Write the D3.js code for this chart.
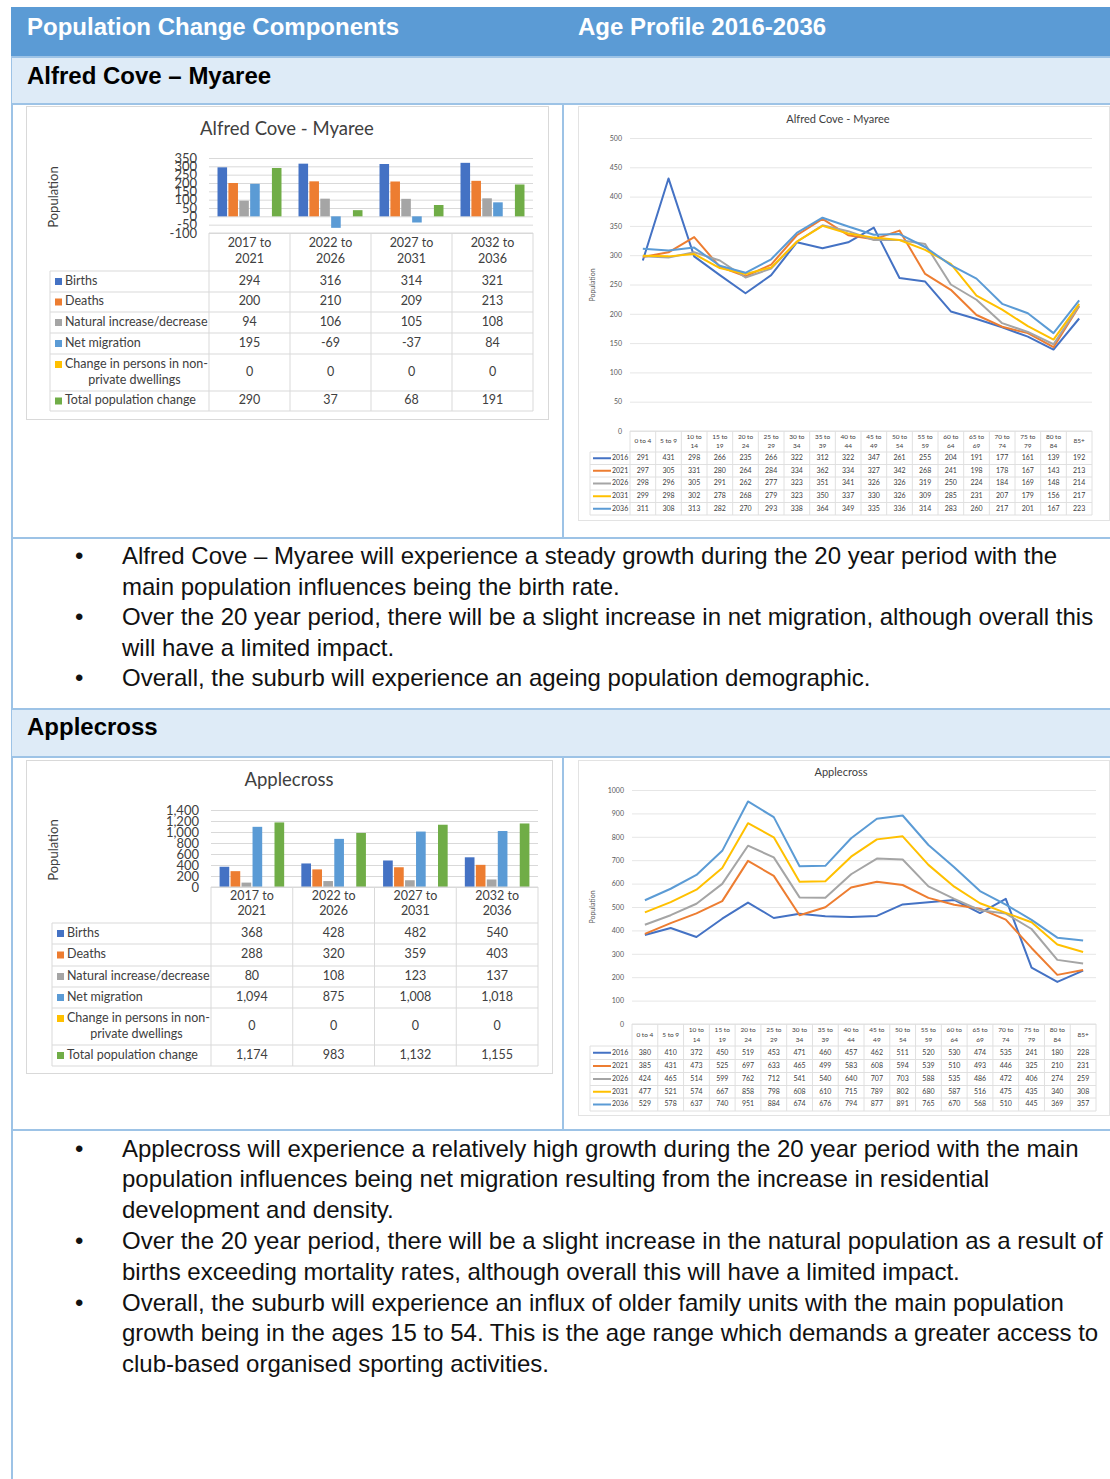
<!DOCTYPE html>
<html>
<head>
<meta charset="utf-8">
<script src="https://d3js.org/d3.v7.min.js"></script>
<style>
    body {
        margin: 0;
        padding: 0;
        width: 1110px;
        height: 1479px;
        position: relative;
        overflow: hidden;
        background: #fff;
        font-family: "Liberation Sans", Arial, sans-serif;
    }
    .abs { position: absolute; white-space: nowrap; }
    .topbar { left: 11px; top: 7px; width: 1099px; height: 49px; background: #5b9bd5; }
    .toptext { color: #fff; font-weight: bold; font-size: 24px; line-height: 28px; top: 13px; }
    .band { left: 12px; width: 1098px; background: #deebf7; border-top: 2px solid #9dc3e6; border-bottom: 2px solid #9dc3e6; }
    .bandtext { font-weight: bold; font-size: 24px; line-height: 28px; left: 27px; color: #000; }
    .rule { background: #9dc3e6; }
    .bullet { font-size: 24px; color: #111; }
    #chart { position: absolute; left: 0; top: 0; }
</style>
</head>
<body>
    <div class="abs rule" style="left:11px;top:7px;width:2px;height:1472px;"></div>
    <div class="abs topbar"></div>
    <div class="abs toptext" style="left:27px;">Population Change Components</div>
    <div class="abs toptext" style="left:578px;">Age Profile 2016-2036</div>

    <div class="abs band" style="top:56px;height:45px;"></div>
    <div class="abs bandtext" style="top:62px;">Alfred Cove – Myaree</div>
    <div class="abs rule" style="left:562px;top:103px;width:2px;height:435px;"></div>
    <div class="abs rule" style="left:12px;top:537px;width:1098px;height:2px;"></div>

    <div class="abs band" style="top:708px;height:46px;"></div>
    <div class="abs bandtext" style="top:713px;">Applecross</div>
    <div class="abs rule" style="left:562px;top:756px;width:2px;height:374px;"></div>
    <div class="abs rule" style="left:12px;top:1129px;width:1098px;height:2px;"></div>

    <div id="notes"></div>
    <div id="chart"></div>

<script>
    // ---- bar chart data (population change components) ----
    var periods = ["2017 to 2021", "2022 to 2026", "2027 to 2031", "2032 to 2036"];
    var components = ["Births", "Deaths", "Natural increase/decrease", "Net migration",
                      "Change in persons in non-private dwellings", "Total population change"];
    var componentColors = ["#4472c4", "#ed7d31", "#a5a5a5", "#5b9bd5", "#ffc000", "#70ad47"];

    var acmBirths     = [294, 316, 314, 321];
    var acmDeaths     = [200, 210, 209, 213];
    var acmNatural    = [94, 106, 105, 108];
    var acmMigration  = [195, -69, -37, 84];
    var acmNonPrivate = [0, 0, 0, 0];
    var acmTotal      = [290, 37, 68, 191];
    var acmBarTicks   = [-100, -50, 0, 50, 100, 150, 200, 250, 300, 350];

    var appBirths     = [368, 428, 482, 540];
    var appDeaths     = [288, 320, 359, 403];
    var appNatural    = [80, 108, 123, 137];
    var appMigration  = [1094, 875, 1008, 1018];
    var appNonPrivate = [0, 0, 0, 0];
    var appTotal      = [1174, 983, 1132, 1155];
    var appBarTicks   = [0, 200, 400, 600, 800, 1000, 1200, 1400];

    // ---- line chart data (age profile) ----
    var ageGroups = ["0 to 4", "5 to 9", "10 to 14", "15 to 19", "20 to 24", "25 to 29",
                     "30 to 34", "35 to 39", "40 to 44", "45 to 49", "50 to 54", "55 to 59",
                     "60 to 64", "65 to 69", "70 to 74", "75 to 79", "80 to 84", "85+"];
    var years = ["2016", "2021", "2026", "2031", "2036"];
    var yearColors = ["#4472c4", "#ed7d31", "#a5a5a5", "#ffc000", "#5b9bd5"];

    var acm2016 = [291, 431, 298, 266, 235, 266, 322, 312, 322, 347, 261, 255, 204, 191, 177, 161, 139, 192];
    var acm2021 = [297, 305, 331, 280, 264, 284, 334, 362, 334, 327, 342, 268, 241, 198, 178, 167, 143, 213];
    var acm2026 = [298, 296, 305, 291, 262, 277, 323, 351, 341, 326, 326, 319, 250, 224, 184, 169, 148, 214];
    var acm2031 = [299, 298, 302, 278, 268, 279, 323, 350, 337, 330, 326, 309, 285, 231, 207, 179, 156, 217];
    var acm2036 = [311, 308, 313, 282, 270, 293, 338, 364, 349, 335, 336, 314, 283, 260, 217, 201, 167, 223];
    var acmLineTicks = [0, 50, 100, 150, 200, 250, 300, 350, 400, 450, 500];

    var app2016 = [380, 410, 372, 450, 519, 453, 471, 460, 457, 462, 511, 520, 530, 474, 535, 241, 180, 228];
    var app2021 = [385, 431, 473, 525, 697, 633, 465, 499, 583, 608, 594, 539, 510, 493, 446, 325, 210, 231];
    var app2026 = [424, 465, 514, 599, 762, 712, 541, 540, 640, 707, 703, 588, 535, 486, 472, 406, 274, 259];
    var app2031 = [477, 521, 574, 667, 858, 798, 608, 610, 715, 789, 802, 680, 587, 516, 475, 435, 340, 308];
    var app2036 = [529, 578, 637, 740, 951, 884, 674, 676, 794, 877, 891, 765, 670, 568, 510, 445, 369, 357];
    var appLineTicks = [0, 100, 200, 300, 400, 500, 600, 700, 800, 900, 1000];

    // ---- commentary ----
    var acmNotes = [
        ["Alfred Cove – Myaree will experience a steady growth during the 20 year period with the",
         "main population influences being the birth rate."],
        ["Over the 20 year period, there will be a slight increase in net migration, although overall this",
         "will have a limited impact."],
        ["Overall, the suburb will experience an ageing population demographic."]
    ];
    var appNotes = [
        ["Applecross will experience a relatively high growth during the 20 year period with the main",
         "population influences being net migration resulting from the increase in residential",
         "development and density."],
        ["Over the 20 year period, there will be a slight increase in the natural population as a result of",
         "births exceeding mortality rates, although overall this will have a limited impact."],
        ["Overall, the suburb will experience an influx of older family units with the main population",
         "growth being in the ages 15 to 54. This is the age range which demands a greater access to",
         "club-based organised sporting activities."]
    ];

    function writeNotes(notes, top, lh) {
        var row = 0;
        notes.forEach(function(item) {
            var y = top + row * lh;
            d3.select("#notes").append("div").attr("class", "abs bullet")
                .style("left", "75px").style("top", y + "px").style("line-height", lh + "px")
                .text("•");
            d3.select("#notes").append("div").attr("class", "abs bullet")
                .style("left", "122px").style("top", y + "px").style("line-height", lh + "px")
                .html(item.join("<br>"));
            row += item.length;
        });
    }
    writeNotes(acmNotes, 541, 30.5);
    writeNotes(appNotes, 1133.5, 30.8);

    var chartFont = "Lato, 'Open Sans', sans-serif";
    var fmt = function(d) { return d3.format(",")(d).replace("\u2212", "-"); };

    var svg = d3.select("#chart").append("svg")
        .attr("width", 1110)
        .attr("height", 1479)
        .style("font-family", chartFont);

    function drawBarChart(cfg) {
        var g = svg.append("g");
        g.append("rect")
            .attr("x", cfg.box[0] + 0.5).attr("y", cfg.box[1] + 0.5)
            .attr("width", cfg.box[2]).attr("height", cfg.box[3])
            .attr("fill", "#fff").attr("stroke", "#d9d9d9");
        g.append("text")
            .attr("x", cfg.title[1]).attr("y", cfg.title[2])
            .attr("text-anchor", "middle").attr("dominant-baseline", "middle")
            .attr("font-size", 18.5).attr("fill", "#404040")
            .text(cfg.title[0]);
        g.append("text")
            .attr("transform", "translate(" + cfg.yTitle[0] + "," + cfg.yTitle[1] + ") rotate(-90)")
            .attr("text-anchor", "middle").attr("dominant-baseline", "middle")
            .attr("font-size", 13).attr("fill", "#404040")
            .text("Population");

        var x0 = d3.scaleBand().domain(periods).range([cfg.px0, cfg.px1])
            .paddingInner(0.21).paddingOuter(0.105);
        var x1 = d3.scaleBand().domain(d3.range(components.length))
            .range([0, x0.bandwidth()]).paddingInner(0.12);
        var y = d3.scaleLinear().domain(cfg.domain).range([cfg.py1, cfg.py0]);

        var axis = g.append("g")
            .attr("transform", "translate(" + cfg.px0 + ",0)")
            .call(d3.axisLeft(y).tickValues(cfg.ticks).tickSize(-(cfg.px1 - cfg.px0))
                .tickPadding(12).tickFormat(fmt));
        axis.select(".domain").remove();
        axis.selectAll("line").attr("stroke", "#d9d9d9");
        axis.selectAll("text").attr("font-size", 13).attr("fill", "#404040")
            .attr("font-family", chartFont);

        cfg.series.forEach(function(vals, i) {
            g.selectAll(".s" + i)
                .data(vals)
                .enter().append("rect")
                .attr("x", function(d, j) { return x0(periods[j]) + x1(i); })
                .attr("y", function(d) { return Math.min(y(d), y(0)); })
                .attr("width", x1.bandwidth())
                .attr("height", function(d) { return Math.abs(y(d) - y(0)); })
                .attr("fill", componentColors[i]);
        });

        // data table under the plot
        var rows = cfg.rows;
        var bottom = rows[rows.length - 1];
        var step = x0.step();
        var line = function(a, b, c, d) {
            g.append("line").attr("x1", a).attr("y1", b).attr("x2", c).attr("y2", d)
                .attr("stroke", "#d9d9d9");
        };
        line(cfg.px0, cfg.py1, cfg.px1, cfg.py1);
        rows.forEach(function(r) { line(cfg.tx0, r, cfg.px1, r); });
        d3.range(periods.length + 1).forEach(function(j) {
            var xx = cfg.px0 + j * step;
            line(xx, cfg.py1, xx, bottom);
        });
        line(cfg.tx0, rows[0], cfg.tx0, bottom);

        var hh = rows[0] - cfg.py1;
        periods.forEach(function(p, j) {
            var cx = cfg.px0 + (j + 0.5) * step;
            var parts = p.split(" to ");
            g.append("text").attr("x", cx).attr("y", cfg.py1 + hh * 0.28)
                .attr("text-anchor", "middle").attr("dominant-baseline", "middle")
                .attr("font-size", 12.5).attr("fill", "#404040").text(parts[0] + " to");
            g.append("text").attr("x", cx).attr("y", cfg.py1 + hh * 0.7)
                .attr("text-anchor", "middle").attr("dominant-baseline", "middle")
                .attr("font-size", 12.5).attr("fill", "#404040").text(parts[1]);
        });

        components.forEach(function(name, k) {
            var cy = (rows[k] + rows[k + 1]) / 2;
            var lines = name.replace("non-", "non-\n").split("\n");
            var ly = lines.length > 1 ? cy - 8 : cy;
            g.append("rect").attr("x", cfg.tx0 + 5).attr("y", ly - 3.5)
                .attr("width", 7).attr("height", 7).attr("fill", componentColors[k]);
            g.append("text").attr("x", cfg.tx0 + 15).attr("y", ly)
                .attr("dominant-baseline", "middle").attr("font-size", 12.5)
                .attr("fill", "#404040").text(lines[0]);
            if (lines.length > 1) {
                g.append("text").attr("x", (cfg.tx0 + cfg.px0) / 2 + 5).attr("y", cy + 8)
                    .attr("text-anchor", "middle").attr("dominant-baseline", "middle")
                    .attr("font-size", 12.5).attr("fill", "#404040").text(lines[1]);
            }
            cfg.series[k].forEach(function(v, j) {
                g.append("text").attr("x", cfg.px0 + (j + 0.5) * step).attr("y", cy)
                    .attr("text-anchor", "middle").attr("dominant-baseline", "middle")
                    .attr("font-size", 12.5).attr("fill", "#404040").text(fmt(v));
            });
        });
    }

    function drawLineChart(cfg) {
        var g = svg.append("g");
        g.append("rect")
            .attr("x", cfg.box[0] + 0.5).attr("y", cfg.box[1] + 0.5)
            .attr("width", cfg.box[2]).attr("height", cfg.box[3])
            .attr("fill", "#fff").attr("stroke", "#e3e3e3");
        g.append("text")
            .attr("x", cfg.title[1]).attr("y", cfg.title[2])
            .attr("text-anchor", "middle").attr("dominant-baseline", "middle")
            .attr("font-size", 11).attr("fill", "#404040")
            .text(cfg.title[0]);
        g.append("text")
            .attr("transform", "translate(" + cfg.yTitle[0] + "," + cfg.yTitle[1] + ") rotate(-90)")
            .attr("text-anchor", "middle").attr("dominant-baseline", "middle")
            .attr("font-size", 7).attr("fill", "#595959")
            .text("Population");

        var x = d3.scaleBand().domain(ageGroups).range([cfg.px0, cfg.px1]);
        var y = d3.scaleLinear().domain([0, cfg.ticks[cfg.ticks.length - 1]]).range([cfg.py1, cfg.py0]);

        var axis = g.append("g")
            .attr("transform", "translate(" + cfg.px0 + ",0)")
            .call(d3.axisLeft(y).tickValues(cfg.ticks).tickSize(-(cfg.px1 - cfg.px0))
                .tickPadding(8).tickFormat(d3.format("d")));
        axis.select(".domain").remove();
        axis.selectAll("line").attr("stroke", "#e6e6e6");
        axis.selectAll("text").attr("font-size", 7).attr("fill", "#595959")
            .attr("font-family", chartFont);

        var path = d3.line()
            .x(function(d, i) { return x(ageGroups[i]) + x.bandwidth() / 2; })
            .y(function(d) { return y(d); });

        cfg.series.forEach(function(vals, i) {
            g.append("path").datum(vals)
                .attr("d", path)
                .attr("fill", "none")
                .attr("stroke", yearColors[i])
                .attr("stroke-width", 2)
                .attr("stroke-linejoin", "round");
        });

        // data table
        var rows = cfg.rows;
        var bottom = rows[rows.length - 1];
        var line = function(a, b, c, d) {
            g.append("line").attr("x1", a).attr("y1", b).attr("x2", c).attr("y2", d)
                .attr("stroke", "#e0e0e0");
        };
        line(cfg.px0, cfg.py1, cfg.px1, cfg.py1);
        rows.forEach(function(r) { line(cfg.tx0, r, cfg.px1, r); });
        d3.range(ageGroups.length + 1).forEach(function(j) {
            var xx = cfg.px0 + j * x.step();
            line(xx, cfg.py1, xx, bottom);
        });
        line(cfg.tx0, rows[0], cfg.tx0, bottom);

        var hh = rows[0] - cfg.py1;
        ageGroups.forEach(function(a, j) {
            var cx = x(a) + x.bandwidth() / 2;
            var parts = a.length > 6 ? [a.slice(0, a.lastIndexOf(" ")), a.slice(a.lastIndexOf(" ") + 1)] : [a];
            parts.forEach(function(t, n) {
                var yy = parts.length > 1 ? cfg.py1 + hh * (n ? 0.74 : 0.3) : cfg.py1 + hh * 0.5;
                g.append("text").attr("x", cx).attr("y", yy)
                    .attr("text-anchor", "middle").attr("dominant-baseline", "middle")
                    .attr("font-size", 6.5).attr("fill", "#404040").text(t);
            });
        });

        years.forEach(function(yr, k) {
            var cy = (rows[k] + rows[k + 1]) / 2;
            g.append("line").attr("x1", cfg.tx0 + 3).attr("x2", cfg.tx0 + 21)
                .attr("y1", cy).attr("y2", cy)
                .attr("stroke", yearColors[k]).attr("stroke-width", 2);
            g.append("text").attr("x", cfg.tx0 + 22).attr("y", cy)
                .attr("dominant-baseline", "middle").attr("font-size", 7)
                .attr("fill", "#404040").text(yr);
            cfg.series[k].forEach(function(v, j) {
                g.append("text").attr("x", x(ageGroups[j]) + x.bandwidth() / 2).attr("y", cy)
                    .attr("text-anchor", "middle").attr("dominant-baseline", "middle")
                    .attr("font-size", 7).attr("fill", "#404040").text(v);
            });
        });
    }

    drawBarChart({
        box: [26, 106, 522, 313],
        title: ["Alfred Cove - Myaree", 287, 130],
        yTitle: [55, 197],
        px0: 209, px1: 533, py0: 158, py1: 233,
        domain: [-100, 350], ticks: acmBarTicks,
        tx0: 50, rows: [271, 292, 312, 333, 354, 391, 411],
        series: [acmBirths, acmDeaths, acmNatural, acmMigration, acmNonPrivate, acmTotal]
    });

    drawBarChart({
        box: [26, 760, 526, 313],
        title: ["Applecross", 289, 781],
        yTitle: [55, 850],
        px0: 211, px1: 538, py0: 810, py1: 887,
        domain: [0, 1400], ticks: appBarTicks,
        tx0: 52, rows: [923, 944, 966, 987, 1008, 1045, 1066],
        series: [appBirths, appDeaths, appNatural, appMigration, appNonPrivate, appTotal]
    });

    drawLineChart({
        box: [578, 106, 531, 414],
        title: ["Alfred Cove - Myaree", 838, 120],
        yTitle: [593, 285],
        px0: 630, px1: 1092, py0: 138, py1: 431,
        ticks: acmLineTicks,
        tx0: 590, rows: [452, 464.5, 477, 490, 502.5, 515],
        series: [acm2016, acm2021, acm2026, acm2031, acm2036]
    });

    drawLineChart({
        box: [578, 760, 531, 355],
        title: ["Applecross", 841, 773],
        yTitle: [593, 907],
        px0: 632, px1: 1096, py0: 790, py1: 1024,
        ticks: appLineTicks,
        tx0: 590, rows: [1046, 1059.5, 1072.5, 1085.5, 1098, 1111],
        series: [app2016, app2021, app2026, app2031, app2036]
    });
</script>
</body>
</html>
